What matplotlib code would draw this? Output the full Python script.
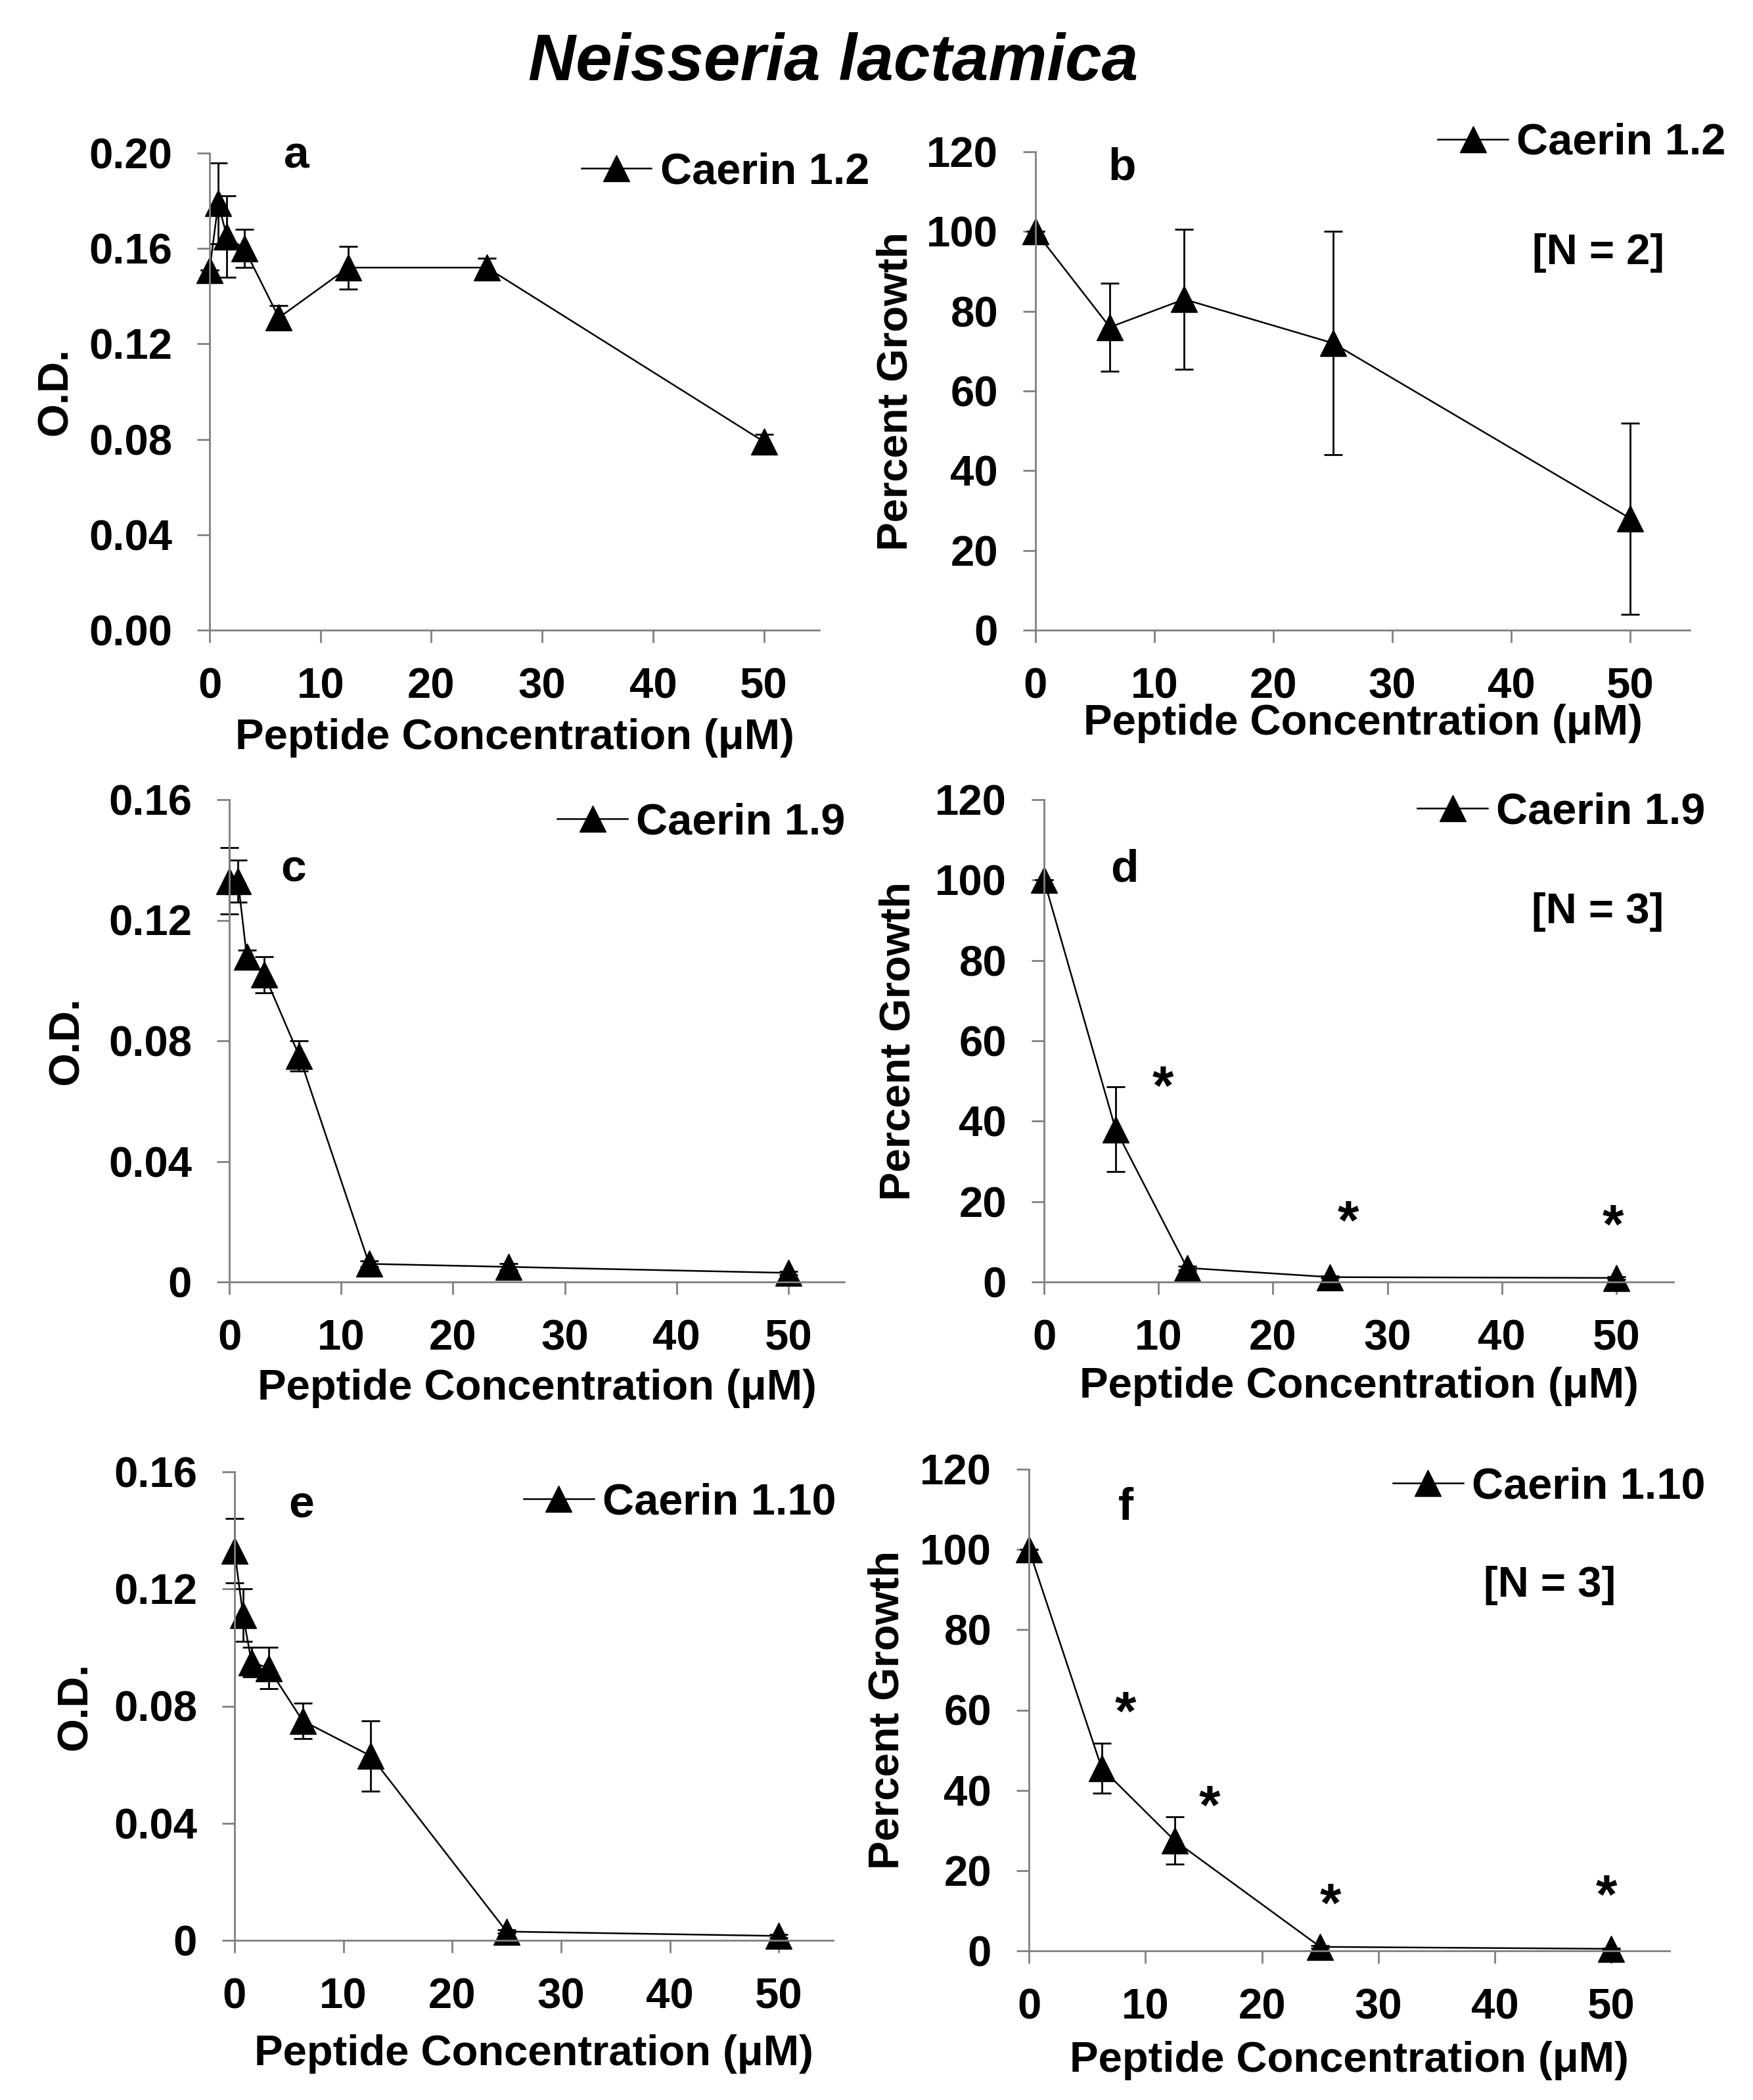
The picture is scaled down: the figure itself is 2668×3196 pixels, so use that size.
import matplotlib.pyplot as plt

plt.rcParams['font.family'] = ['Liberation Sans', 'DejaVu Sans']
plt.rcParams['font.weight'] = 'bold'
plt.rcParams['axes.labelweight'] = 'bold'

# peptide concentrations (uM)
conc_od = [0, 0.78, 1.56, 3.125, 6.25, 12.5, 25, 50]
conc_pct = [0, 6.25, 12.5, 25, 50]

# Caerin 1.2
od_c12 = [0.151, 0.179, 0.165, 0.160, 0.131, 0.152, 0.152, 0.079]
od_c12_err = [0.0, 0.017, 0.017, 0.008, 0.005, 0.009, 0.004, 0.003]
pct_c12 = [100, 76, 83, 72, 28]
pct_c12_err = [0, 11, 17.5, 28, 24]

# Caerin 1.9
od_c19 = [0.133, 0.133, 0.108, 0.102, 0.075, 0.006, 0.005, 0.003]
od_c19_err = [0.011, 0.007, 0.002, 0.006, 0.005, 0.001, 0.001, 0.0005]
pct_c19 = [100, 38, 3.5, 1.2, 1.0]
pct_c19_err = [0, 10.6, 0.5, 0.3, 0.3]

# Caerin 1.10
od_c110 = [0.133, 0.111, 0.095, 0.093, 0.075, 0.063, 0.003, 0.0015]
od_c110_err = [0.011, 0.009, 0.005, 0.007, 0.006, 0.012, 0.0005, 0.0005]
pct_c110 = [100, 45.5, 27.5, 1.0, 0.5]
pct_c110_err = [0, 6.2, 5.9, 0.3, 0.2]

# significance stars
stars_d_x = [10.4, 26.6, 49.7]
stars_d_y = [52, 18.6, 17.5]
stars_f_x = [8.3, 15.5, 25.9, 49.6]
stars_f_y = [63, 39.6, 15.2, 17.3]

x_ticks = [0, 10, 20, 30, 40, 50]
od_ticks_a = [0, 0.04, 0.08, 0.12, 0.16, 0.20]
od_labels_a = ['0.00', '0.04', '0.08', '0.12', '0.16', '0.20']
od_ticks = [0, 0.04, 0.08, 0.12, 0.16]
od_labels = ['0', '0.04', '0.08', '0.12', '0.16']
pct_ticks = [0, 20, 40, 60, 80, 100, 120]

W, H = 2668, 3196
GRAY = '#808080'
FS = 47

fig = plt.figure(figsize=(W / 100, H / 100), dpi=100)


def rect(l, t, r, b):
    return [l / W, 1 - b / H, (r - l) / W, (b - t) / H]


def ftext(x, y, s, **kw):
    fig.text(x / W, 1 - y / H, s, **kw)


def panel(box, x, y, err, name, yticks, ylabels, ylabel, ylab_x, xlab_y, leg_xy):
    ax = fig.add_axes(rect(*box))
    ax.errorbar(x, y, yerr=err, fmt='none', ecolor='black', elinewidth=2,
                capsize=10, capthick=2, clip_on=False)
    line, = ax.plot(x, y, '-^', color='black', ms=29, lw=1.8, label=name,
                    clip_on=False)
    ax.set_xlim(0, 55)
    ax.set_ylim(yticks[0], yticks[-1])
    ax.set_xticks(x_ticks)
    ax.set_yticks(yticks)
    ax.set_yticklabels(ylabels)
    for s in ['top', 'right']:
        ax.spines[s].set_visible(False)
    for s in ['left', 'bottom']:
        ax.spines[s].set_color(GRAY)
        ax.spines[s].set_linewidth(2)
    ax.tick_params(direction='out', length=14, width=2, color=GRAY, pad=27,
                   labelsize=FS)
    ax.set_ylabel(ylabel, fontsize=FS, va='center')
    ax.yaxis.set_label_coords(ylab_x, 0.5)
    ax.set_xlabel('Peptide Concentration (μM)', fontsize=FS, va='center')
    ax.xaxis.set_label_coords(0.5, xlab_y)
    ax.legend(handles=[line], loc='center right', bbox_to_anchor=leg_xy,
              frameon=False, fontsize=48, handlelength=1.6, handletextpad=0.2,
              borderpad=0, borderaxespad=0, numpoints=1)
    return ax


panel((319, 233, 1247, 959), conc_od, od_c12, od_c12_err, 'Caerin 1.2',
      od_ticks_a, od_labels_a, 'O.D.', -0.252, -0.226, (1.082, 0.959))
panel((1576, 231, 2572, 959), conc_pct, pct_c12, pct_c12_err, 'Caerin 1.2',
      pct_ticks, [str(t) for t in pct_ticks], 'Percent Growth', -0.213, -0.195,
      (1.055, 1.018))
panel((349, 1217, 1285, 1951), conc_od, od_c19, od_c19_err, 'Caerin 1.9',
      od_ticks, od_labels, 'O.D.', -0.264, -0.221, (1.002, 0.952))
ax_d = panel((1589, 1217, 2547, 1951), conc_pct, pct_c19, pct_c19_err, 'Caerin 1.9',
             pct_ticks, [str(t) for t in pct_ticks], 'Percent Growth', -0.231, -0.217,
             (1.051, 0.973))
panel((357, 2240, 1268, 2953), conc_od, od_c110, od_c110_err, 'Caerin 1.10',
      od_ticks, od_labels, 'O.D.', -0.266, -0.243, (1.005, 0.934))
ax_f = panel((1566, 2236, 2541, 2969), conc_pct, pct_c110, pct_c110_err, 'Caerin 1.10',
             pct_ticks, [str(t) for t in pct_ticks], 'Percent Growth', -0.221, -0.228,
             (1.056, 0.963))

# asterisks, placed by their visual centre
for ax, xs, ys in [(ax_d, stars_d_x, stars_d_y), (ax_f, stars_f_x, stars_f_y)]:
    for sx, sy in zip(xs, ys):
        ax.annotate('*', xy=(sx, sy), xytext=(0, -0.58 * 60), textcoords='offset points',
                    ha='center', va='baseline', fontsize=60)

# panel letters
for lx, ly, s in [(451, 255, 'a'), (1708, 274, 'b'), (447, 1341, 'c'),
                  (1711, 1341, 'd'), (459, 2310, 'e'), (1713, 2313, 'f')]:
    ftext(lx, ly, s, fontsize=50, ha='center', va='baseline')

for nx, ny, s in [(2432, 402, '[N = 2]'), (2432, 1405, '[N = 3]'), (2359, 2430, '[N = 3]')]:
    ftext(nx, ny, s, fontsize=FS, ha='center', va='baseline')

ftext(1268, 122, 'Neisseria lactamica', fontsize=72, style='italic',
      ha='center', va='baseline')

fig.savefig('out.png', dpi=100)
